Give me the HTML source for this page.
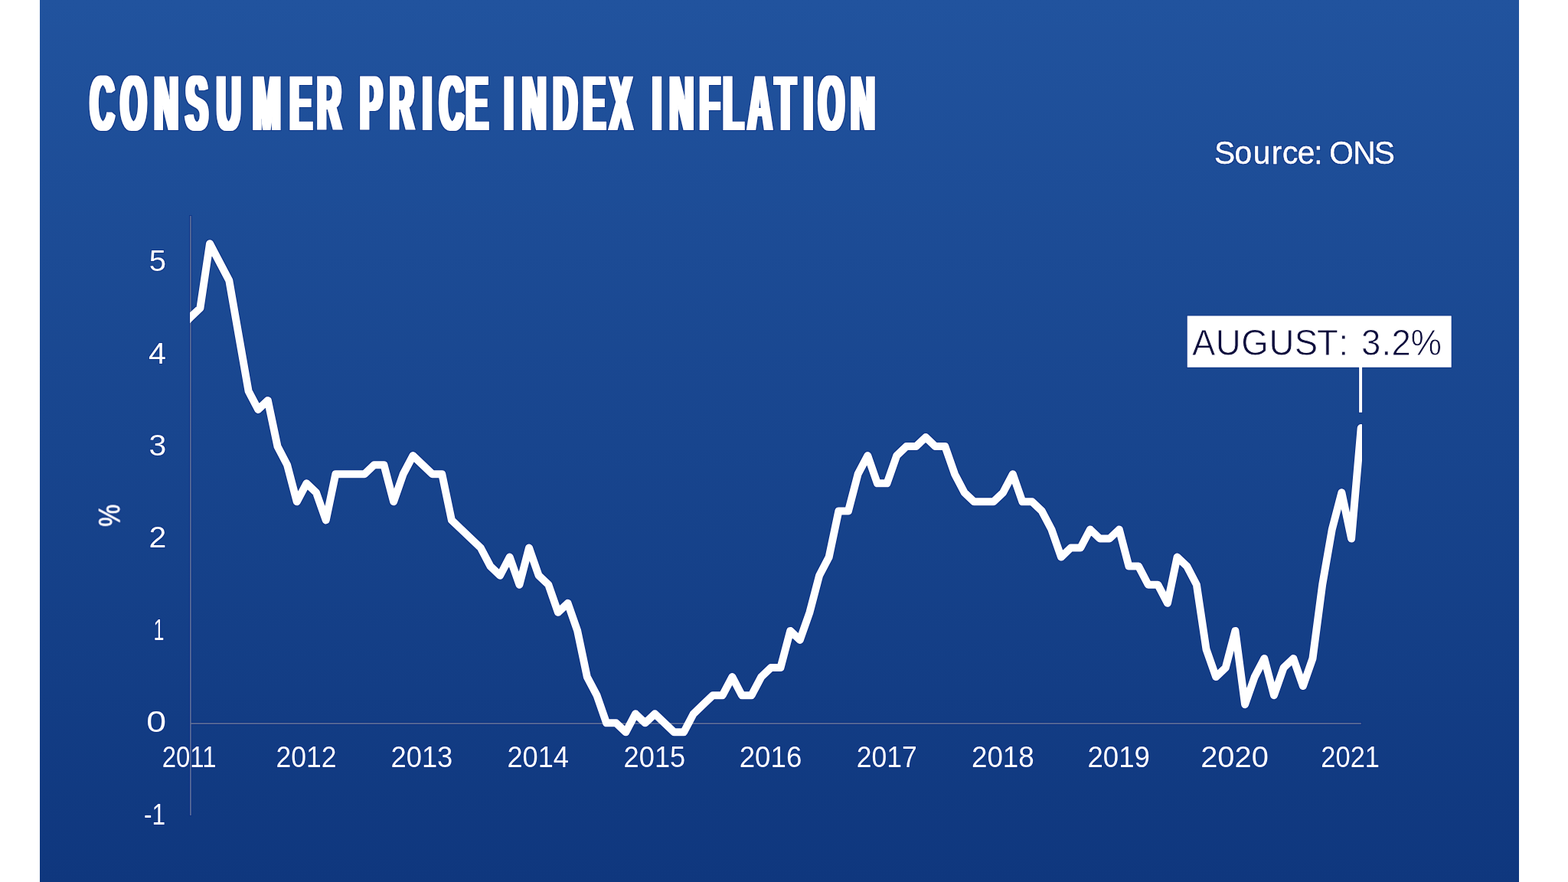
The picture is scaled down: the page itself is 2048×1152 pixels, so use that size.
<!DOCTYPE html>
<html lang="en"><head><meta charset="utf-8"><title>Consumer Price Index Inflation</title>
<style>
html,body{margin:0;padding:0;background:#fff;}
body{width:2048px;height:1152px;overflow:hidden;}
svg{display:block;font-family:"Liberation Sans",Arial,sans-serif;}
</style></head><body>
<svg width="2048" height="1152" viewBox="0 0 2048 1152">
<defs>
<linearGradient id="bg" x1="0" y1="0" x2="0" y2="1">
<stop offset="0" stop-color="#21539e"/>
<stop offset="1" stop-color="#0f377e"/>
</linearGradient>
<filter id="fat" filterUnits="userSpaceOnUse" x="90" y="80" width="1080" height="110" color-interpolation-filters="sRGB">
<feMorphology in="SourceGraphic" operator="dilate" radius="3 0"/>
</filter>
<filter id="halo" filterUnits="userSpaceOnUse" x="52" y="0" width="1932" height="1152" color-interpolation-filters="sRGB">
<feMorphology in="SourceGraphic" operator="dilate" radius="1 1" result="h0"/>
<feColorMatrix in="h0" type="matrix" values="0 0 0 0 0.035  0 0 0 0 0.17  0 0 0 0 0.51  0 0 0 0.7 0" result="h1"/>
<feMerge><feMergeNode in="h1"/><feMergeNode in="SourceGraphic"/></feMerge>
</filter>
<clipPath id="plot"><rect x="248" y="280" width="1531" height="800"/></clipPath>
</defs>
<rect x="0" y="0" width="2048" height="1152" fill="#fff"/>
<rect x="52" y="0" width="1932" height="1152" fill="url(#bg)"/>
<g filter="url(#halo)">
<g filter="url(#fat)"><text transform="translate(0,170.2) scale(0.43,1)" x="274.0 366.5 468.4 564.1 658.4 768.3 880.5 963.1 1048.4 1093.8 1184.1 1283.7 1335.1 1415.2 1493.2 1531.2 1586.3 1680.0 1771.5 1852.6 1936.9 1981.2 2033.7 2125.2 2196.6 2271.4 2354.9 2441.1 2486.3 2584.1" y="0" font-size="101.2" font-weight="bold" fill="#fff">CONSUMER PRICE INDEX INFLATION</text></g>
<text transform="translate(0,214.30) scale(0.9500,1)" x="1669.6 1697.5 1722.8 1748.2 1763.1 1784.0 1806.7 1817.1 1827.6 1860.3 1889.3" y="0" font-size="42.8" fill="#fff" stroke="#fff" stroke-width="0.5">Source: ONS</text>
<rect x="248.1" y="282" width="1.6" height="783" fill="#62729a"/>
<rect x="248.1" y="944.1" width="1529.7" height="1.8" fill="#5d6d94"/>
<text x="194.80" y="354.14" font-size="38.5" textLength="22.29" lengthAdjust="spacingAndGlyphs" fill="#fff">5</text>
<text x="194.05" y="474.54" font-size="38.5" textLength="22.96" lengthAdjust="spacingAndGlyphs" fill="#fff">4</text>
<text x="194.44" y="594.94" font-size="38.5" textLength="22.76" lengthAdjust="spacingAndGlyphs" fill="#fff">3</text>
<text x="194.64" y="715.34" font-size="38.5" textLength="22.83" lengthAdjust="spacingAndGlyphs" fill="#fff">2</text>
<text x="200.59" y="835.74" font-size="38.5" textLength="13.93" lengthAdjust="spacingAndGlyphs" fill="#fff">1</text>
<text x="191.39" y="956.14" font-size="38.5" textLength="25.83" lengthAdjust="spacingAndGlyphs" fill="#fff">0</text>
<text x="188.10" y="1076.54" font-size="38.5" textLength="28.04" lengthAdjust="spacingAndGlyphs" fill="#fff">-1</text>
<text x="211.70" y="1002.20" font-size="38.3" textLength="70.86" lengthAdjust="spacingAndGlyphs" fill="#fff">2011</text>
<text x="360.41" y="1002.20" font-size="38.3" textLength="78.97" lengthAdjust="spacingAndGlyphs" fill="#fff">2012</text>
<text x="510.47" y="1002.20" font-size="38.3" textLength="80.82" lengthAdjust="spacingAndGlyphs" fill="#fff">2013</text>
<text x="662.38" y="1002.20" font-size="38.3" textLength="80.58" lengthAdjust="spacingAndGlyphs" fill="#fff">2014</text>
<text x="814.58" y="1002.20" font-size="38.3" textLength="80.65" lengthAdjust="spacingAndGlyphs" fill="#fff">2015</text>
<text x="965.65" y="1002.20" font-size="38.3" textLength="81.66" lengthAdjust="spacingAndGlyphs" fill="#fff">2016</text>
<text x="1118.71" y="1002.20" font-size="38.3" textLength="79.08" lengthAdjust="spacingAndGlyphs" fill="#fff">2017</text>
<text x="1268.95" y="1002.20" font-size="38.3" textLength="81.85" lengthAdjust="spacingAndGlyphs" fill="#fff">2018</text>
<text x="1420.46" y="1002.20" font-size="38.3" textLength="81.48" lengthAdjust="spacingAndGlyphs" fill="#fff">2019</text>
<text x="1568.20" y="1002.20" font-size="38.3" textLength="88.66" lengthAdjust="spacingAndGlyphs" fill="#fff">2020</text>
<text x="1725.37" y="1002.20" font-size="38.3" textLength="76.61" lengthAdjust="spacingAndGlyphs" fill="#fff">2021</text>
<text transform="translate(156.3,686.8) rotate(-90) scale(0.8479,1)" x="-1.37" y="0" font-size="38.5" fill="#fff" stroke="#fff" stroke-width="0.9">%</text>
<g clip-path="url(#plot)"><polyline points="236.1,426.6 248.8,414.5 261.4,402.5 274.0,318.2 286.7,342.3 299.3,366.4 311.9,438.6 324.6,510.9 337.2,534.9 349.8,522.9 362.5,583.1 375.1,607.2 387.7,655.3 400.4,631.3 413.0,643.3 425.7,679.4 438.3,619.2 450.9,619.2 463.6,619.2 476.2,619.2 488.8,607.2 501.5,607.2 514.1,655.3 526.7,619.2 539.4,595.1 552.0,607.2 564.6,619.2 577.3,619.2 589.9,679.4 602.6,691.5 615.2,703.5 627.8,715.5 640.5,739.6 653.1,751.7 665.7,727.6 678.4,763.7 691.0,715.5 703.6,751.7 716.3,763.7 728.9,799.8 741.6,787.8 754.2,823.9 766.8,884.1 779.5,908.2 792.1,944.3 804.7,944.3 817.4,956.3 830.0,932.3 842.6,944.3 855.3,932.3 867.9,944.3 880.5,956.3 893.2,956.3 905.8,932.3 918.5,920.2 931.1,908.2 943.7,908.2 956.4,884.1 969.0,908.2 981.6,908.2 994.3,884.1 1006.9,872.1 1019.5,872.1 1032.2,823.9 1044.8,835.9 1057.5,799.8 1070.1,751.7 1082.7,727.6 1095.4,667.4 1108.0,667.4 1120.6,619.2 1133.3,595.1 1145.9,631.3 1158.5,631.3 1171.2,595.1 1183.8,583.1 1196.4,583.1 1209.1,571.1 1221.7,583.1 1234.4,583.1 1247.0,619.2 1259.6,643.3 1272.3,655.3 1284.9,655.3 1297.5,655.3 1310.2,643.3 1322.8,619.2 1335.4,655.3 1348.1,655.3 1360.7,667.4 1373.4,691.5 1386.0,727.6 1398.6,715.5 1411.3,715.5 1423.9,691.5 1436.5,703.5 1449.2,703.5 1461.8,691.5 1474.4,739.6 1487.1,739.6 1499.7,763.7 1512.3,763.7 1525.0,787.8 1537.6,727.6 1550.3,739.6 1562.9,763.7 1575.5,848.0 1588.2,884.1 1600.8,872.1 1613.4,823.9 1626.1,920.2 1638.7,884.1 1651.3,860.0 1664.0,908.2 1676.6,872.1 1689.3,860.0 1701.9,896.1 1714.5,860.0 1727.2,763.7 1739.8,691.5 1752.4,643.3 1765.1,703.5 1777.7,559.0" fill="none" stroke="#fff" stroke-width="10" stroke-linejoin="round" stroke-linecap="round"/></g>
<rect x="1550.7" y="412.5" width="345.0" height="67.3" fill="#fff"/>
<rect x="1775.1" y="479" width="4" height="59.7" fill="#fff"/>
</g>
<text transform="translate(0,464.20) scale(0.9622,1)" x="1618.1 1650.1 1685.0 1722.6 1757.2 1787.7 1817.3 1832.5 1847.8 1875.5 1889.0 1914.8" y="0" font-size="47.4" fill="#0b0b3b" stroke="#fff" stroke-width="0.8">AUGUST: 3.2%</text>
</svg>
</body></html>
